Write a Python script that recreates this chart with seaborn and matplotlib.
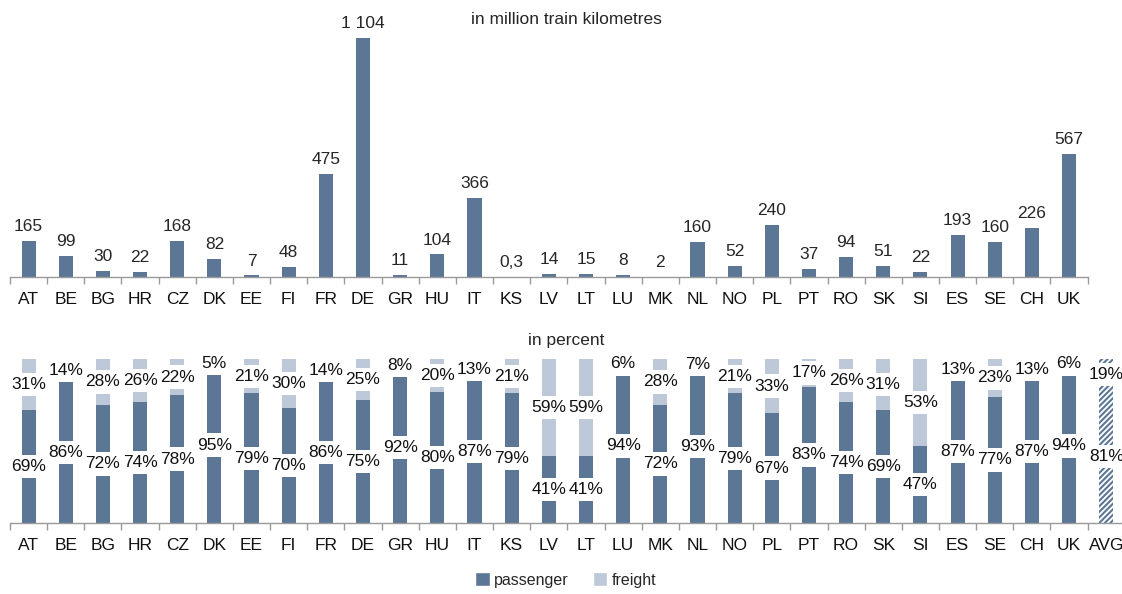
import matplotlib
matplotlib.use("Agg")
import matplotlib.pyplot as plt
from matplotlib.patches import Patch
import pandas as pd
import seaborn as sns

countries = ["AT", "BE", "BG", "HR", "CZ", "DK", "EE", "FI", "FR", "DE", "GR", "HU", "IT", "KS", "LV",
             "LT", "LU", "MK", "NL", "NO", "PL", "PT", "RO", "SK", "SI", "ES", "SE", "CH", "UK"]
train_km = [165, 99, 30, 22, 168, 82, 7, 48, 475, 1104, 11, 104, 366, 0.3, 14,
            15, 8, 2, 160, 52, 240, 37, 94, 51, 22, 193, 160, 226, 567]
km_labels = ["165", "99", "30", "22", "168", "82", "7", "48", "475", "1 104", "11", "104", "366", "0,3", "14",
             "15", "8", "2", "160", "52", "240", "37", "94", "51", "22", "193", "160", "226", "567"]

share_cats = countries + ["AVG"]
passenger_pct = [69, 86, 72, 74, 78, 95, 79, 70, 86, 75, 92, 80, 87, 79, 41,
                 41, 94, 72, 93, 79, 67, 83, 74, 69, 47, 87, 77, 87, 94, 81]
freight_pct = [31, 14, 28, 26, 22, 5, 21, 30, 14, 25, 8, 20, 13, 21, 59,
               59, 6, 28, 7, 21, 33, 17, 26, 31, 53, 13, 23, 13, 6, 19]

DARK = "#5b7795"
LIGHT = "#bdc9d8"
AXIS_GREY = "#9a9a9a"

sns.set_theme(style="white")
plt.rcParams["font.family"] = ["Liberation Sans Narrow", "Liberation Sans", "DejaVu Sans"]
plt.rcParams["hatch.linewidth"] = 1.5

fig = plt.figure(figsize=(11.22, 5.94), dpi=100)
cat_w = 37.16 / 1122
left = 10 / 1122

# --- top panel: train kilometres
ax1 = fig.add_axes([left, 1 - 277 / 594, cat_w * len(countries), (277 - 17.2) / 594])
df_km = pd.DataFrame({"country": countries, "km": train_km})
sns.barplot(data=df_km, x="country", y="km", color=DARK, saturation=1, width=0.38, linewidth=0, ax=ax1)
for i, (v, lab) in enumerate(zip(train_km, km_labels)):
    ax1.annotate(lab, (i, v), xytext=(0, 5), textcoords="offset points",
                 ha="center", va="bottom", fontsize=12.5)
ax1.set_ylim(0, 1200)
ax1.set_xlim(-0.5, len(countries) - 0.5)

# --- bottom panel: shares
ax2 = fig.add_axes([left, 1 - 523 / 594, cat_w * len(share_cats), 164 / 594])
df_pct = pd.DataFrame({"country": share_cats, "passenger": passenger_pct, "freight": freight_pct})
df_pct["total"] = df_pct["passenger"] + df_pct["freight"]
sns.barplot(data=df_pct, x="country", y="total", color=LIGHT, saturation=1, width=0.38, linewidth=0, ax=ax2)
sns.barplot(data=df_pct, x="country", y="passenger", color=DARK, saturation=1, width=0.38, linewidth=0, ax=ax2)
n = len(share_cats)
for k, p in enumerate(ax2.patches):
    if k % n == n - 1:
        p.set_facecolor("white")
        p.set_edgecolor(DARK)
        p.set_hatch("//////")
        p.set_linewidth(0)

# white label boxes first, then the texts on top of all boxes
box = dict(facecolor="white", edgecolor="none", pad=3)
for i, (pv, fv) in enumerate(zip(passenger_pct, freight_pct)):
    for y, lab in ((pv / 2, f"{pv}%"), (pv + fv / 2, f"{fv}%")):
        ax2.text(i, y, lab, ha="center", va="center", fontsize=12.5, color="white", bbox=box, zorder=4)
        ax2.text(i, y, lab, ha="center", va="center", fontsize=12.5, color="#111111", zorder=5)
ax2.set_ylim(0, 100)
ax2.set_xlim(-0.5, n - 0.5)

for ax, cnt in ((ax1, len(countries)), (ax2, n)):
    ax.set_xlabel("")
    ax.set_ylabel("")
    ax.set_yticks([])
    for s in ("top", "right", "left"):
        ax.spines[s].set_visible(False)
    ax.spines["bottom"].set_color(AXIS_GREY)
    ax.spines["bottom"].set_linewidth(1)
    ax.set_xticks([i - 0.5 for i in range(cnt + 1)], minor=True)
    ax.tick_params(axis="x", which="minor", bottom=True, length=5, color=AXIS_GREY, width=1)
    ax.tick_params(axis="x", which="major", bottom=False, length=0, pad=10.5, labelsize=12.5, labelcolor="#111111")

fig.text(566 / 1122, 1 - 20 / 594, "in million train kilometres", ha="center", va="center", fontsize=12.5)
fig.text(566 / 1122, 1 - 340 / 594, "in percent", ha="center", va="center", fontsize=12.5)

handles = [Patch(facecolor=DARK, label="passenger"), Patch(facecolor=LIGHT, label="freight")]
fig.legend(handles=handles, loc="center", bbox_to_anchor=(566 / 1122, 1 - 580 / 594), ncol=2,
           frameon=False, fontsize=11.5, handlelength=0.9, handleheight=0.9, handletextpad=0.3,
           columnspacing=1.5)

fig.savefig("out.png", dpi=100)
